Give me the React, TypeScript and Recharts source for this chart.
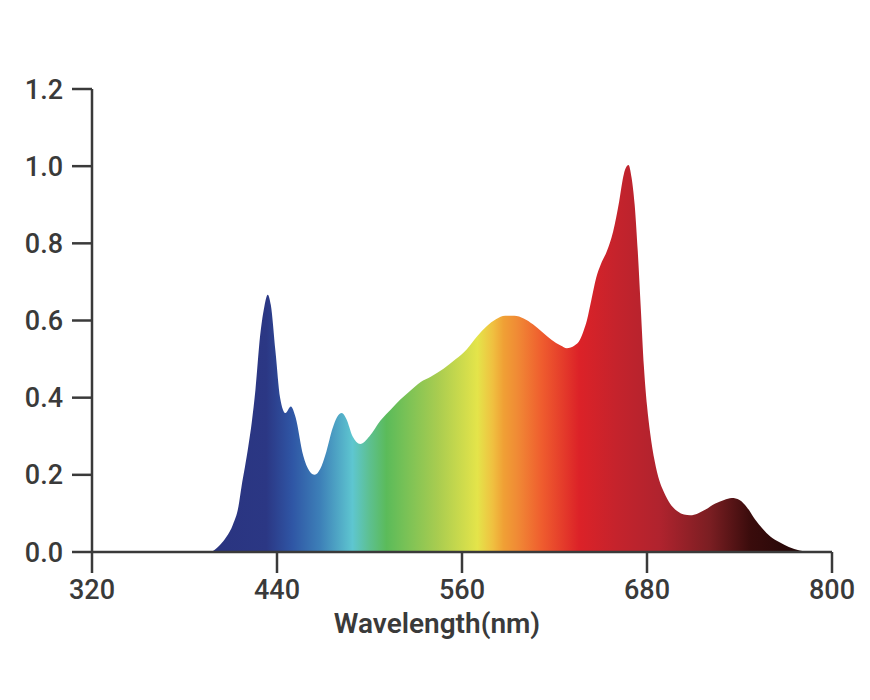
import { Area, AreaChart, XAxis, YAxis } from "recharts";

const wavelengths = [
  396, 399, 403, 407, 411.5, 415, 417, 419.2, 421.4, 423.6, 426, 429, 431.5,
  434, 436, 439, 442, 445.5, 449, 452, 457, 461, 464.5, 468, 472, 476, 479,
  482, 485, 489, 494, 500, 507, 514, 520, 527, 533, 540, 548, 556, 563, 570,
  576, 582, 588, 594, 600, 606, 612, 618, 624, 628, 633, 636.5, 639, 641, 644,
  647, 650, 654, 658, 662, 665, 668, 670, 672, 674, 676, 678, 680, 682, 685,
  688, 691, 695, 700, 704, 708, 713, 718, 724, 730, 735, 740, 745, 750, 755,
  760, 766, 772, 779, 786,
];
const intensity = [
  0, 0.004, 0.018, 0.038, 0.072, 0.118, 0.17, 0.22, 0.274, 0.335, 0.42, 0.559,
  0.63, 0.667, 0.64, 0.52, 0.4, 0.36, 0.377, 0.35, 0.25, 0.21, 0.2, 0.215,
  0.26, 0.32, 0.35, 0.36, 0.345, 0.3, 0.28, 0.3, 0.34, 0.37, 0.395, 0.42, 0.44,
  0.455, 0.475, 0.5, 0.525, 0.56, 0.585, 0.603, 0.612, 0.612, 0.605, 0.59,
  0.57, 0.55, 0.535, 0.528, 0.535, 0.55, 0.575, 0.6, 0.655, 0.71, 0.745, 0.78,
  0.83, 0.91, 0.98, 1.003, 0.97, 0.9, 0.78, 0.63, 0.48, 0.38, 0.31, 0.235,
  0.185, 0.155, 0.125, 0.105, 0.097, 0.095, 0.1, 0.11, 0.125, 0.135, 0.14,
  0.135, 0.115, 0.085, 0.06, 0.04, 0.025, 0.013, 0.004, 0,
];

const xTicks = [320, 440, 560, 680, 800];
const yTicks = [0, 0.2, 0.4, 0.6, 0.8, 1.0, 1.2];

// colour of the spectrum at a given wavelength
const stopNm = [
  396, 433, 450, 468, 489, 500, 511, 544, 570, 580, 587, 596, 612, 636, 660,
  688, 721, 747, 786,
];
const stopColors = [
  "#2a3480", "#2b3784", "#2f56a5", "#3d80b8", "#5ec6d0", "#5dc090", "#5bbb5a",
  "#a8cc50", "#e4e44a", "#f0c040", "#f0a035", "#f08a35", "#ef5c2e", "#dc2228",
  "#c5232c", "#b0232e", "#7a1e22", "#3a0c0c", "#1e0606",
];

const data = wavelengths.map((nm, i) => ({ nm, value: intensity[i] }));

const first = wavelengths[0];
const last = wavelengths[wavelengths.length - 1];

const ink = "#3a3a3a";
const tickFont = { fontFamily: "Roboto", fontSize: 27, fontWeight: 500, fill: ink };

export default function App() {
  return (
    <div style={{ position: "absolute", left: 0, top: 0 }}>
      <AreaChart
        width={870}
        height={700}
        data={data}
        margin={{ top: 89, right: 38, bottom: 88, left: 0 }}
      >
        <defs>
          <linearGradient id="spectrum" x1="0" y1="0" x2="1" y2="0">
            {stopNm.map((nm, i) => (
              <stop
                key={nm}
                offset={(nm - first) / (last - first)}
                stopColor={stopColors[i]}
              />
            ))}
          </linearGradient>
        </defs>
        <XAxis
          dataKey="nm"
          type="number"
          domain={[320, 800]}
          ticks={xTicks}
          height={60}
          tickSize={21}
          tickMargin={7}
          axisLine={{ stroke: ink, strokeWidth: 2.5 }}
          tickLine={{ stroke: ink, strokeWidth: 2.5 }}
          tick={tickFont}
          label={{
            value: "Wavelength(nm)",
            position: "bottom",
            offset: 1,
            dx: -25,
            fontFamily: "Roboto",
            fontWeight: 600,
            fontSize: 28,
            fill: ink,
          }}
        />
        <YAxis
          type="number"
          domain={[0, 1.2]}
          ticks={yTicks}
          width={92}
          tickSize={20}
          tickMargin={9}
          tickFormatter={(v: number) => v.toFixed(1)}
          axisLine={{ stroke: ink, strokeWidth: 2.5 }}
          tickLine={{ stroke: ink, strokeWidth: 2.5 }}
          tick={tickFont}
        />
        <Area
          type="monotone"
          dataKey="value"
          stroke="none"
          fill="url(#spectrum)"
          fillOpacity={1}
          dot={false}
          activeDot={false}
          isAnimationActive={false}
        />
      </AreaChart>
    </div>
  );
}
